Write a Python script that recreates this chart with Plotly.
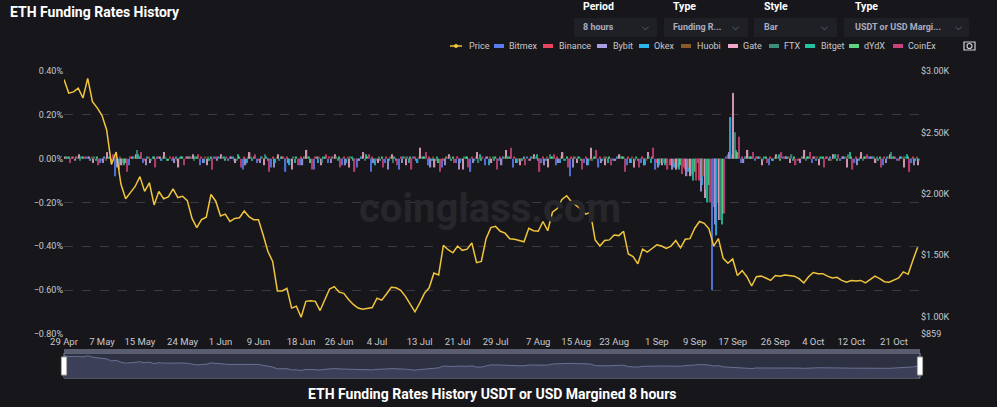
import plotly.graph_objects as go
import pandas as pd

price_dates = pd.date_range("2022-04-29", "2022-10-26", freq="D")
price = [2930,2820,2830,2860,2780,2940,2750,2700,2640,2520,2240,2340,2080,1960,2010,2060,2140,2020,2090,1910,
         2020,1960,1975,2040,1970,1980,1945,1800,1725,1790,1810,1995,1940,1820,1835,1775,1800,1805,1860,1815,
         1790,1790,1665,1530,1450,1210,1210,1230,1070,1085,995,1125,1130,1125,1050,1145,1225,1245,1200,1190,
         1140,1100,1070,1060,1065,1075,1150,1135,1185,1240,1235,1215,1165,1100,1040,1110,1190,1235,1355,1340,
         1580,1545,1520,1575,1540,1550,1600,1440,1450,1635,1725,1735,1695,1680,1635,1630,1620,1610,1720,1700,
         1695,1775,1700,1850,1880,1955,1985,1935,1905,1875,1835,1850,1625,1575,1620,1625,1665,1660,1695,1510,
         1490,1430,1550,1525,1555,1585,1575,1555,1575,1620,1560,1630,1635,1720,1775,1760,1715,1575,1635,1475,
         1435,1470,1335,1375,1325,1250,1325,1330,1315,1295,1335,1330,1340,1335,1330,1310,1275,1325,1360,1350,
         1350,1330,1315,1320,1295,1280,1295,1290,1295,1275,1305,1330,1310,1285,1280,1300,1315,1365,1345,1460,1565]

fr_dates = pd.date_range("2022-04-29", periods=61, freq="3D")
# funding rates in % (3-day sampled)
bitmex  = [-0.01,0.01,0.01,-0.02,-0.08,-0.03,-0.02,0.01,-0.01,0.01,-0.03,0.01,-0.01,-0.05,-0.02,-0.04,-0.06,-0.03,-0.05,-0.02,
           -0.03,-0.04,-0.06,-0.02,-0.05,0.01,-0.03,-0.04,-0.02,-0.06,-0.03,-0.01,-0.04,0.01,-0.02,-0.03,-0.08,-0.02,-0.04,-0.01,
           -0.03,-0.02,-0.05,-0.03,-0.04,-0.02,-0.60,0.01,-0.02,-0.01,-0.03,0.01,-0.01,-0.02,0.01,-0.01,-0.02,0.01,-0.03,-0.01,-0.02]
binance = [0.01,0.01,0.01,-0.01,0.01,0.01,-0.01,0.01,0.01,0.01,0.01,0.01,0.01,0.01,-0.01,0.01,0.01,0.01,0.01,0.01,
           0.01,-0.01,0.01,0.01,0.01,0.01,0.01,-0.01,0.01,0.01,0.01,0.01,0.01,-0.01,0.01,0.01,0.01,0.01,0.01,-0.01,
           0.01,0.01,-0.02,-0.03,-0.05,-0.10,-0.22,0.02,0.01,0.01,0.01,0.01,-0.01,0.01,0.01,0.01,0.01,0.01,0.01,-0.01,0.01]
bybit   = [0.01,-0.01,0.01,-0.02,-0.04,0.01,-0.03,0.01,-0.02,0.01,-0.02,-0.01,0.01,-0.03,-0.02,-0.04,-0.02,-0.03,0.01,-0.02,
           -0.03,-0.01,-0.02,-0.05,-0.02,-0.01,-0.04,-0.03,-0.05,-0.02,0.01,-0.03,-0.02,-0.01,-0.03,-0.02,-0.04,-0.03,-0.02,-0.01,
           -0.02,-0.03,-0.04,-0.05,-0.08,-0.15,-0.30,0.03,-0.02,0.01,-0.01,0.01,-0.02,0.01,-0.01,0.01,-0.03,0.01,-0.02,0.01,-0.03]
okex    = [0.01,0.01,-0.01,0.01,-0.05,0.01,0.01,-0.01,0.01,0.01,-0.02,0.01,0.01,-0.02,0.01,-0.02,-0.03,0.01,-0.02,0.01,
           -0.02,0.01,-0.03,-0.01,0.01,-0.02,-0.01,0.01,-0.02,-0.01,-0.03,0.01,-0.02,0.01,-0.01,-0.02,0.01,-0.03,-0.01,0.01,
           -0.02,-0.03,-0.03,-0.04,-0.06,-0.12,-0.35,0.19,0.01,0.01,-0.01,0.01,0.01,-0.01,0.01,0.01,-0.01,0.01,0.01,0.01,-0.01]
huobi   = [0.01,0.01,0.01,-0.01,0.01,0.01,0.01,0.01,-0.01,0.01,0.01,0.01,-0.01,0.01,0.01,0.01,-0.01,0.01,0.01,0.01,
           0.01,0.01,-0.01,0.01,0.01,0.01,0.01,0.01,-0.01,0.01,0.01,0.01,-0.01,0.01,0.01,0.01,0.01,-0.01,0.01,0.01,
           0.01,-0.01,-0.02,-0.02,-0.04,-0.08,-0.20,0.02,0.01,0.01,0.01,0.01,0.01,0.01,-0.01,0.01,0.01,0.01,0.01,0.01,0.01]
gate    = [0.01,0.02,-0.02,0.03,-0.03,0.02,-0.02,0.03,-0.04,0.02,-0.03,0.02,-0.02,0.03,-0.03,0.02,-0.05,0.04,-0.03,0.02,
           -0.04,0.03,-0.02,0.02,-0.03,0.05,-0.04,0.02,-0.05,0.03,-0.02,0.04,-0.03,0.02,-0.04,0.03,-0.02,0.05,-0.03,0.02,
           -0.04,0.03,-0.03,-0.05,-0.08,-0.18,-0.28,0.30,0.04,-0.03,0.02,-0.02,0.04,-0.03,0.02,-0.04,0.03,-0.02,0.02,-0.04,-0.03]
ftx     = [0.01,-0.01,0.01,0.01,-0.02,0.04,-0.01,0.01,0.01,-0.01,0.01,0.01,-0.01,0.01,0.02,-0.01,0.01,0.01,-0.02,0.01,
           0.01,-0.01,0.01,-0.02,0.01,0.01,-0.01,0.01,0.01,-0.02,0.01,0.01,-0.01,0.01,0.02,-0.01,0.01,-0.01,0.01,0.01,
           -0.01,0.01,-0.02,-0.04,-0.07,-0.14,-0.28,0.12,0.01,-0.01,0.01,0.02,-0.01,0.01,0.01,0.02,-0.01,0.01,0.03,0.01,-0.01]
bitget  = [0.01,0.01,-0.01,0.01,-0.03,0.02,0.01,-0.01,0.01,0.01,-0.01,0.01,0.02,-0.01,0.01,0.01,-0.02,0.01,0.01,-0.01,
           0.01,0.02,-0.01,0.01,-0.02,0.01,0.01,-0.01,0.01,0.02,-0.01,0.01,-0.01,0.02,0.01,-0.01,0.01,0.01,-0.02,0.01,
           0.01,-0.02,-0.03,-0.05,-0.10,-0.20,-0.30,0.04,0.01,0.01,0.02,-0.01,0.01,0.01,0.02,0.03,0.01,-0.01,0.01,0.02,0.01]
dydx    = [0.01,0.01,0.01,-0.01,-0.02,0.01,0.01,-0.01,0.01,0.01,0.01,-0.01,0.01,0.01,-0.01,0.01,0.01,-0.02,0.01,0.01,
           -0.01,0.01,0.01,-0.01,0.01,0.01,-0.02,0.01,0.01,-0.01,0.01,0.01,0.01,-0.01,0.01,0.01,-0.01,0.01,0.01,0.01,
           -0.01,0.01,-0.02,-0.03,-0.06,-0.12,-0.25,0.03,0.01,0.01,-0.01,0.01,0.01,0.01,-0.01,0.01,0.01,0.01,0.01,0.01,0.01]
coinex  = [-0.02,0.01,-0.03,0.02,-0.06,0.03,-0.04,0.01,-0.03,0.02,-0.05,0.01,-0.04,0.02,-0.06,0.01,-0.03,-0.05,0.02,-0.04,
           -0.06,0.02,-0.04,-0.03,-0.05,0.03,-0.06,-0.02,-0.04,0.01,-0.05,0.05,-0.03,-0.06,0.02,-0.04,-0.05,0.04,-0.03,-0.06,
           -0.04,0.05,-0.05,-0.07,-0.10,-0.20,-0.25,0.10,0.03,-0.02,0.03,-0.03,0.03,-0.04,0.02,-0.05,0.02,-0.04,0.01,-0.06,-0.05]

series = [("Bitmex", bitmex, "#5b7cf0"), ("Binance", binance, "#e8435f"), ("Bybit", bybit, "#a99ee6"),
          ("Okex", okex, "#2bb5e8"), ("Huobi", huobi, "#8a5a2b"), ("Gate", gate, "#f0a8c8"),
          ("FTX", ftx, "#3a8f7c"), ("Bitget", bitget, "#22c3a0"), ("dYdX", dydx, "#5fd17f"),
          ("CoinEx", coinex, "#c9437a")]
price_color = "#f0c43c"

font = "Roboto"
T, BOT = 71, 378          # plotting region (pixels)
H = BOT - T
def py(ypx):
    return (BOT - ypx) / H
def px(xpx):
    return (xpx - 64) / 856

fig = go.Figure()
fig.add_trace(go.Scatter(x=price_dates, y=price, name="Price", yaxis="y2", mode="lines",
                         line=dict(color=price_color, width=1.5)))
for name, vals, col in series:
    fig.add_trace(go.Bar(x=fr_dates, y=vals, name=name, marker_color=col, marker_line_width=0, opacity=0.85))
# navigator (mini overview)
fig.add_trace(go.Scatter(x=price_dates, y=price, xaxis="x2", yaxis="y3", mode="lines", fill="tozeroy",
                         line=dict(color="#6a7092", width=1), fillcolor="#3b4058", hoverinfo="skip"))

fig.update_layout(
    width=997, height=407, paper_bgcolor="#17171b", plot_bgcolor="#17171b",
    font=dict(family=font, color="#c8c8cc", size=10),
    margin=dict(l=64, r=77, t=T, b=407 - BOT),
    barmode="group", bargap=0.05, bargroupgap=0,
    showlegend=False,
    xaxis=dict(type="date", range=["2022-04-29", "2022-10-26 12:00"], showgrid=False, anchor="y",
               tickvals=pd.to_datetime(["2022-04-29","2022-05-07","2022-05-15","2022-05-24","2022-06-01","2022-06-09",
                                         "2022-06-18","2022-06-26","2022-07-04","2022-07-13","2022-07-21","2022-07-29",
                                         "2022-08-07","2022-08-15","2022-08-23","2022-09-01","2022-09-09","2022-09-17",
                                         "2022-09-26","2022-10-04","2022-10-12","2022-10-21"]),
               tickformat="%-d %b", tickfont=dict(size=9.5, color="#c8c8cc")),
    yaxis=dict(domain=[py(334), 1], range=[-0.8, 0.4], dtick=0.2, ticksuffix="%", tickformat=".2f",
               gridcolor="#3a3a40", griddash="dash", zeroline=False, tickfont=dict(size=9)),
    yaxis2=dict(range=[859, 3000], overlaying="y", side="right", showgrid=False,
                tickvals=[859, 1000, 1500, 2000, 2500, 3000],
                ticktext=["$859", "$1.00K", "$1.50K", "$2.00K", "$2.50K", "$3.00K"],
                tickfont=dict(size=9)),
    xaxis2=dict(type="date", range=["2022-04-29", "2022-10-26 12:00"], anchor="y3", visible=False),
    yaxis3=dict(domain=[0, py(353)], range=[0, 3300], visible=False),
)
# navigator background & frame & handles
fig.add_shape(type="rect", xref="paper", yref="paper", x0=0, x1=1, y0=0, y1=py(353),
              fillcolor="#2e3142", line=dict(color="#8a8da0", width=1), layer="below")
fig.add_shape(type="rect", xref="paper", yref="paper", x0=0, x1=1, y0=py(353), y1=py(349),
              fillcolor="#5a5d70", line_width=0)
for hx in (0, 1):
    fig.add_shape(type="rect", xref="paper", yref="paper", x0=hx - 0.003, x1=hx + 0.003, y0=py(375), y1=py(357),
                  fillcolor="#ffffff", line=dict(color="#aaaaaa", width=1))

# manual legend (symbol centre x, text x)
legend_pos = [("Price", price_color, 456, 467, True), ("Bitmex", "#5b7cf0", 499, 507, False),
              ("Binance", "#e8435f", 548, 557, False), ("Bybit", "#a99ee6", 602, 611, False),
              ("Okex", "#2bb5e8", 644, 652, False), ("Huobi", "#8a5a2b", 686, 695, False),
              ("Gate", "#f0a8c8", 733, 741, False), ("FTX", "#3a8f7c", 774, 782, False),
              ("Bitget", "#22c3a0", 810, 819, False), ("dYdX", "#5fd17f", 854, 862, False),
              ("CoinEx", "#c9437a", 898, 906, False)]
LY = 46
for name, col, x, tx, is_line in legend_pos:
    if is_line:
        fig.add_shape(type="line", xref="paper", yref="paper", x0=px(x - 6), x1=px(x + 6), y0=py(LY), y1=py(LY),
                      line=dict(color=col, width=1.5))
        fig.add_shape(type="circle", xref="paper", yref="paper", x0=px(x - 2), x1=px(x + 2), y0=py(LY + 2),
                      y1=py(LY - 2), fillcolor=col, line_width=0)
    else:
        fig.add_shape(type="rect", xref="paper", yref="paper", x0=px(x - 5), x1=px(x + 5),
                      y0=py(LY + 2), y1=py(LY - 2), fillcolor=col, line_width=0)
    fig.add_annotation(text=name, xref="paper", yref="paper", x=px(tx), y=py(LY), xanchor="left",
                       yanchor="middle", showarrow=False,
                       font=dict(size=9, color="#c8c8cc", family="Liberation Sans Narrow, Roboto"))
# camera icon
fig.add_shape(type="rect", xref="paper", yref="paper", x0=px(964), x1=px(975), y0=py(50), y1=py(42),
              line=dict(color="#d0d0d4", width=1.2))
fig.add_shape(type="circle", xref="paper", yref="paper", x0=px(967), x1=px(972), y0=py(48.5), y1=py(43.5),
              line=dict(color="#d0d0d4", width=1.2))

fig.add_annotation(text="<b>coinglass.com</b>", xref="paper", yref="paper", x=px(490), y=py(208), showarrow=False,
                   font=dict(size=40, color="#26262b", family=font))
fig.add_annotation(text="<b>ETH Funding Rates History</b>", xref="paper", yref="paper", x=px(8), xanchor="left",
                   y=py(12), yanchor="middle", showarrow=False,
                   font=dict(size=14, color="#ffffff", family=font))
fig.add_annotation(text="<b>ETH Funding Rates History USDT or USD Margined 8 hours</b>", xref="paper",
                   yref="paper", x=0.5, y=py(394), yanchor="middle", showarrow=False,
                   font=dict(size=14, color="#ffffff", family=font))

# (label x, rect x0, rect x1, chevron x, label, value)
drops = [(581, 574, 657, 645, "Period", "8 hours"), (671, 664, 748, 735, "Type", "Funding R..."),
         (762, 754, 837, 824, "Style", "Bar"), (853, 844, 969, 958, "Type", "USDT or USD Margi...")]
for x0, r0, r1, cx, lab, val in drops:
    fig.add_shape(type="rect", xref="paper", yref="paper",
                  x0=px(r0), x1=px(r1), y0=py(37), y1=py(18), line_width=0,
                  fillcolor="#1f1f26", layer="below")
    fig.add_annotation(text="<b>%s</b>" % lab, xref="paper", yref="paper", x=px(x0), xanchor="left",
                       y=py(7), yanchor="middle", showarrow=False,
                       font=dict(size=10.5, color="#ffffff", family=font))
    fig.add_annotation(text="<b>%s</b>" % val, xref="paper", yref="paper", x=px(x0), xanchor="left",
                       y=py(27), yanchor="middle", showarrow=False,
                       font=dict(size=9, color="#a9adc0", family=font))
    fig.add_annotation(text="⌵", xref="paper", yref="paper", x=px(cx), xanchor="center",
                       y=py(27), yanchor="middle", showarrow=False,
                       font=dict(size=9, color="#8a8d9a"))

fig.write_html("out.html", config={"displayModeBar": False},
               post_script="document.body.style.margin='0';")
